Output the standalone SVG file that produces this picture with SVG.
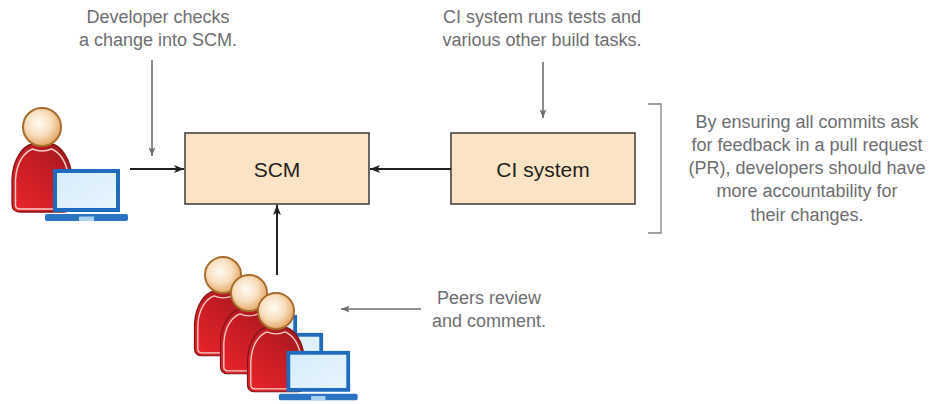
<svg xmlns="http://www.w3.org/2000/svg" xmlns:xlink="http://www.w3.org/1999/xlink" width="937" height="404" viewBox="0 0 937 404">
  <style>
    .box { fill: #fde3c6; stroke: #3a3a3a; stroke-width: 1.5; }
    .label { font-family: "Liberation Sans", Arial, sans-serif; font-size: 21px; fill: #231f20; text-anchor: middle; }
    .note { font-family: "Liberation Sans", Arial, sans-serif; font-size: 18px; fill: #6d6e71; text-anchor: middle; }
    .flow { stroke: #231f20; stroke-width: 2; fill: none; marker-end: url(#headDark); }
    .callout { stroke: #6d6e71; stroke-width: 1.6; fill: none; marker-end: url(#headGray); }
    .bracket { stroke: #808285; stroke-width: 1.3; fill: none; }
  </style>
  <defs>
    <marker id="headDark" viewBox="0 0 10 8" refX="10" refY="4" markerWidth="10" markerHeight="8" markerUnits="userSpaceOnUse" orient="auto">
      <path d="M0,0 L10,4 L0,8 L2.5,4 Z" fill="#231f20"/>
    </marker>
    <marker id="headGray" viewBox="0 0 10 8" refX="10" refY="4" markerWidth="9" markerHeight="7" markerUnits="userSpaceOnUse" orient="auto">
      <path d="M0,0 L10,4 L0,8 L2.5,4 Z" fill="#6d6e71"/>
    </marker>
    <radialGradient id="skin" cx="0.42" cy="0.4" r="0.6">
      <stop offset="0" stop-color="#fffbf3"/>
      <stop offset="0.55" stop-color="#f8dfbf"/>
      <stop offset="1" stop-color="#e4a868"/>
    </radialGradient>
    <linearGradient id="shirt" x1="0.1" y1="1" x2="0.9" y2="0">
      <stop offset="0" stop-color="#e8242b"/>
      <stop offset="0.6" stop-color="#c41c23"/>
      <stop offset="1" stop-color="#9c1a1f"/>
    </linearGradient>
    <linearGradient id="screen" x1="0" y1="0" x2="1" y2="1">
      <stop offset="0" stop-color="#d6ecfb"/>
      <stop offset="1" stop-color="#e8f5fd"/>
    </linearGradient>
    <!-- person at a laptop, origin at the centre of the head -->
    <g id="dev">
      <path d="M -10,17 C -18,19 -29,30 -30,52 L -30,77 Q -30,85 -22,85 L 22,85 Q 30,85 30,77 L 30,52 C 29,30 18,19 10,17 Z" fill="url(#shirt)" stroke="#7e1619" stroke-width="1.3"/>
      <path d="M -26.5,78 L -26.5,53 C -25.5,34 -17,25 -9.5,22 Q 0,26 9.5,22 C 17,25 25.5,34 26.5,53 L 26.5,78 Q 26.5,82 22,82 L -22,82 Q -26.5,82 -26.5,78 Z" fill="none" stroke="#f4cfc8" stroke-width="1.4"/>
      <circle cx="0" cy="0" r="19" fill="url(#skin)" stroke="#a86c2c" stroke-width="2"/>
      <rect x="13" y="44" width="63" height="39" fill="url(#screen)" stroke="#1f6bbd" stroke-width="4"/>
      <rect x="3" y="87" width="83" height="7" rx="2" fill="#2a74c2"/>
      <rect x="37" y="89.5" width="15" height="4.5" fill="#a9d2f2"/>
    </g>
  </defs>

  <g id="developer">
    <use xlink:href="#dev" transform="translate(42,127)"/>
  </g>

  <g id="peers">
    <use xlink:href="#dev" transform="translate(223,275) scale(0.95)"/>
    <use xlink:href="#dev" transform="translate(249,293) scale(0.95)"/>
    <use xlink:href="#dev" transform="translate(276,311) scale(0.95)"/>
  </g>

  <g id="scm">
    <rect class="box" x="185" y="133" width="184" height="71"/>
    <text class="label" x="277" y="176.5">SCM</text>
  </g>

  <g id="ci-system">
    <rect class="box" x="451" y="133" width="184" height="71"/>
    <text class="label" x="543" y="176.5">CI system</text>
  </g>

  <g id="connectors">
    <line class="flow" x1="130" y1="169" x2="184" y2="169"/>
    <line class="flow" x1="451" y1="169" x2="370" y2="169"/>
    <line class="flow" x1="277" y1="275" x2="277" y2="205"/>
    <line class="callout" x1="152" y1="60" x2="152" y2="156"/>
    <line class="callout" x1="543" y1="62" x2="543" y2="118"/>
    <line class="callout" x1="421" y1="309" x2="341" y2="309"/>
    <path class="bracket" d="M648,104 H661 V233 H648"/>
  </g>

  <g id="notes">
    <text class="note" x="158" y="23">Developer checks</text>
    <text class="note" x="158" y="46">a change into SCM.</text>
    <text class="note" x="542" y="23">CI system runs tests and</text>
    <text class="note" x="542" y="46">various other build tasks.</text>
    <text class="note" x="807" y="128">By ensuring all commits ask</text>
    <text class="note" x="807" y="151">for feedback in a pull request</text>
    <text class="note" x="807" y="174">(PR), developers should have</text>
    <text class="note" x="807" y="197">more accountability for</text>
    <text class="note" x="807" y="221">their changes.</text>
    <text class="note" x="489" y="304">Peers review</text>
    <text class="note" x="489" y="327">and comment.</text>
  </g>
</svg>
